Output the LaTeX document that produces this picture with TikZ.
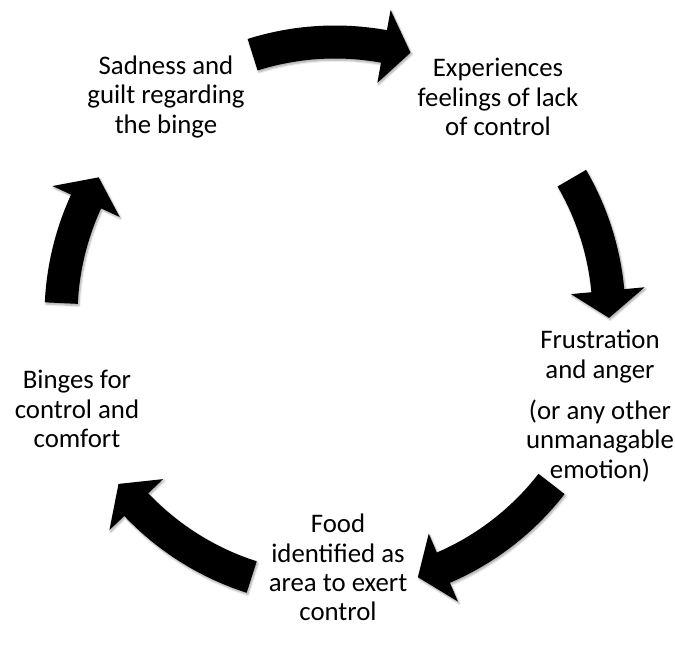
\documentclass[tikz,border=0pt]{standalone}
\usepackage{fontspec}
\setmainfont{Carlito}
\usetikzlibrary{shadows.blur}

% Curved block arrow on the cycle circle: #1 = tail angle, #2 = tip angle
\newcommand{\cyclearrow}[2]{%
  \pgfmathsetmacro{\headbase}{#2+5.7}%
  \path[cyclearrowstyle] (#1:290.5) arc[start angle=#1, end angle=\headbase, radius=290.5]
    -- (\headbase:311) -- (#2:274) -- (\headbase:237) -- (\headbase:257.5)
    arc[start angle=\headbase, end angle=#1, radius=257.5] -- cycle;}

\begin{document}
\begin{tikzpicture}[x=1pt,y=1pt,
  txt/.style={align=center, font=\fontsize{26.8}{29.3}\selectfont, inner sep=0pt},
  cyclearrowstyle/.style={fill=black,
    blur shadow={shadow xshift=1.2pt, shadow yshift=-1.8pt,
      shadow blur steps=6, shadow opacity=35, shadow blur radius=2pt}}]
\useasboundingbox (0,0) rectangle (675,647);

% stages of the cycle
\node[txt] (sad)  at (166,550) {Sadness and\\guilt regarding\\the binge};
\node[txt] (exp)  at (498,550) {Experiences\\feelings of lack\\of control};
\node[txt] (frus) at (600,241) {Frustration\\and anger\\[12pt](or any other\\unmanagable\\emotion)};
\node[txt] (food) at (338,79.5) {Food\\identified as\\area to exert\\control};
\node[txt] (bing) at (77,238) {Binges for\\control and\\comfort};

% arrows around the centre of the cycle
\begin{scope}[shift={(335,331)}]
  \cyclearrow{107.5}{74}
  \cyclearrow{30.2}{-0.4}
  \cyclearrow{-37.8}{-72.4}
  \cyclearrow{-107.7}{-142.2}
  \cyclearrow{177.3}{149.6}
\end{scope}
\end{tikzpicture}
\end{document}
